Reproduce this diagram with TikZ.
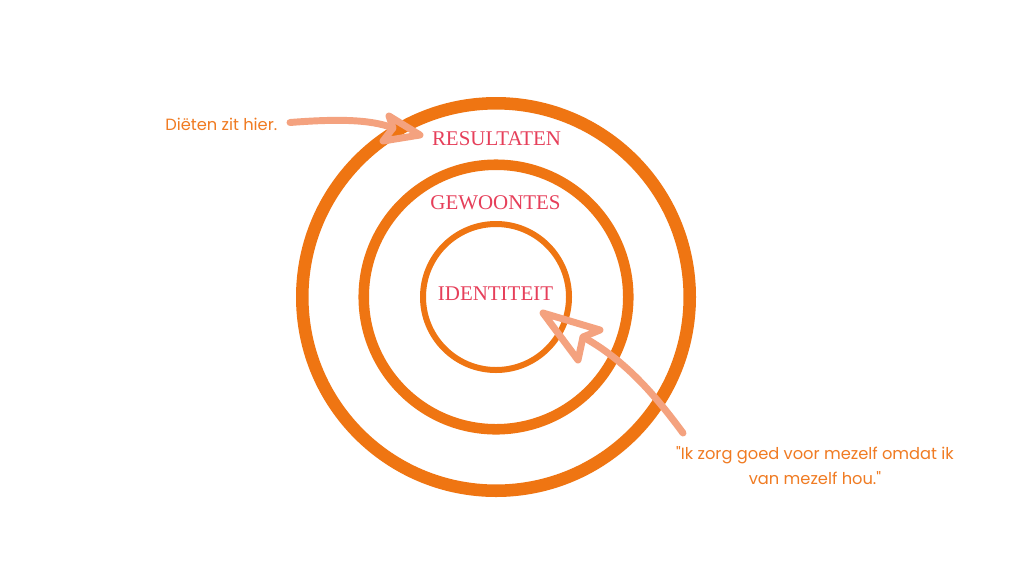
\documentclass[tikz,border=0pt]{standalone}
\usepackage{fontspec}
\setmainfont{Liberation Serif}
\newfontfamily\notefont{Poppins}
\definecolor{ring}{HTML}{EF7512}
\definecolor{lbl}{HTML}{E63F5A}
\definecolor{note}{HTML}{F07B22}
\definecolor{arrc}{HTML}{F4A27F}
\begin{document}
\begin{tikzpicture}[x=0.75pt,y=-0.75pt,
  ringnode/.style={circle,draw=ring,inner sep=0pt,outer sep=0pt},
  lbltext/.style={text=lbl,font=\fontsize{15.7}{18}\selectfont,inner sep=0pt},
  notetext/.style={text=note,font=\notefont\fontsize{12.2}{18.8}\selectfont,inner sep=0pt},
  arr/.style={draw=arrc,line width=5.2pt,line cap=round,line join=round}]
\useasboundingbox (0,0) rectangle (1024,576);
\fill[white] (0,0) rectangle (1024,576);
\node[ringnode,line width=9.4pt,minimum size=290.6pt] (outer) at (496,297) {};
\node[ringnode,line width=7.9pt,minimum size=198.4pt] (middle) at (496,297) {};
\node[ringnode,line width=4.5pt,minimum size=109.5pt] (inner) at (496,297) {};
\node[lbltext] (res) at (496.5,139) {RESULTATEN};
\node[lbltext] (gew) at (495.5,203) {GEWOONTES};
\node[lbltext] (ide) at (495.5,294) {IDENTITEIT};
\node[notetext,anchor=west] (diet) at (165,124) {Diëten zit hier.};
\node[notetext,align=center] (quote) at (815,465.5) {"Ik zorg goed voor mezelf omdat ik\\van mezelf hou."};
% arrow 1
\coordinate (a1s) at (290,122.5);
\coordinate (a1n) at (393,128);
\coordinate (a1t) at (420,135);
\draw[arr] (a1s) .. controls (335,119) and (370,119) .. (a1n);
\draw[arr] (389,116) -- (a1t) -- (383,141) -- (a1n) -- cycle;
% arrow 2
\coordinate (a2s) at (683,433);
\coordinate (a2n) at (583,337);
\coordinate (a2t) at (543,313);
\draw[arr] (a2s) .. controls (655,395) and (625,360) .. (a2n);
\draw[arr] (a2t) -- (600,330) -- (a2n) -- (578,360) -- cycle;
\end{tikzpicture}
\end{document}
